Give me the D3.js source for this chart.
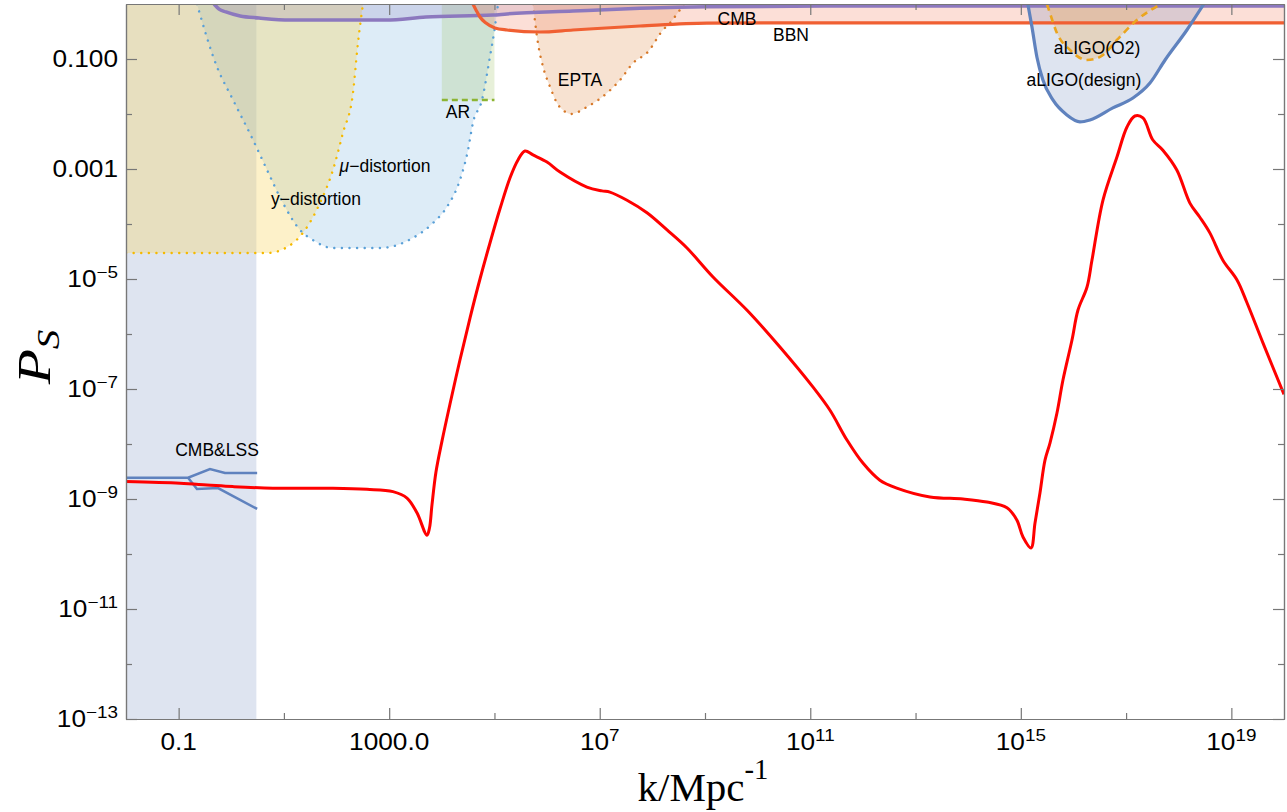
<!DOCTYPE html>
<html>
<head>
<meta charset="utf-8">
<script src="https://cdnjs.cloudflare.com/ajax/libs/d3/7.8.5/d3.min.js"></script>
<style>
  html, body { margin: 0; padding: 0; background: #fff; }
  svg { display: block; }
  text { font-family: "Liberation Sans", Arial, sans-serif; fill: #000; }
</style>
</head>
<body>
<svg id="chart" width="1287" height="812"></svg>
<script>
// ---------------- DATA ----------------
const xDomain = [1e-2, 1e20];
const yDomain = [1e-13, 1];

const xMajorTicks = [1e-1, 1e3, 1e7, 1e11, 1e15, 1e19];
const xMajorLabels = ["0.1", "1000.0", "10^7", "10^11", "10^15", "10^19"];
const xMinorTicks = [1e1, 1e5, 1e9, 1e13, 1e17];
const yMajorTicks = [1e-1, 1e-3, 1e-5, 1e-7, 1e-9, 1e-11, 1e-13];
const yMajorLabels = ["0.100", "0.001", "10^-5", "10^-7", "10^-9", "10^-11", "10^-13"];
const yMinorTicks = [1e-2, 1e-4, 1e-6, 1e-8, 1e-10, 1e-12];

// red curve: scalar power spectrum [k, P]
const redCurve = [
  [0.01, 2.07e-9], [0.106, 1.93e-9], [0.346, 1.80e-9], [1.08, 1.68e-9], [6.2, 1.57e-9],
  [85, 1.57e-9], [378, 1.50e-9], [1180, 1.36e-9], [2180, 1.04e-9], [3370, 5.6e-10],
  [5220, 2.2e-10], [5830, 2.97e-10], [6500, 7.8e-10], [7740, 3.1e-9], [1.007e4, 1.13e-8],
  [1.43e4, 5.34e-8], [2.21e4, 3.37e-7], [3.43e4, 1.95e-6], [5.31e4, 1.0e-5], [8.22e4, 4.52e-5],
  [1.27e5, 1.87e-4], [1.97e5, 6.86e-4], [2.80e5, 1.46e-3], [3.8e5, 2.12e-3], [5.4e5, 1.8e-3],
  [9.95e5, 1.34e-3], [1.76e6, 8.8e-4], [5.7e6, 4.7e-4], [1.1e7, 4.0e-4], [1.56e7, 3.8e-4],
  [3.3e7, 2.7e-4], [7.9e7, 1.6e-4], [1.9e8, 7.8e-5], [4.5e8, 3.7e-5], [1.42e9, 1.09e-5],
  [6.3e9, 2.7e-6], [2.65e10, 5.8e-7], [1.12e11, 1.09e-7], [2.37e11, 4.1e-8], [4.98e11, 1.18e-8],
  [1.0e12, 4.5e-9], [2.1e12, 2.2e-9], [4.4e12, 1.58e-9], [1.88e13, 1.09e-9], [7.95e13, 1.0e-9],
  [2.27e14, 8.8e-10], [5.45e14, 6.9e-10], [8.4e14, 4.15e-10], [1.1e15, 2.04e-10], [1.56e15, 1.29e-10],
  [1.86e15, 3.66e-10], [2.31e15, 1.29e-9], [2.88e15, 5.1e-9], [3.58e15, 1.04e-8], [4.86e15, 3.66e-8],
  [6.32e15, 1.46e-7], [9.38e15, 7.78e-7], [1.22e16, 2.73e-6], [1.81e16, 7.16e-6], [2.25e16, 2.21e-5],
  [3.64e16, 2.73e-4], [6.7e16, 1.65e-3], [1.04e17, 5.8e-3], [1.47e17, 9.2e-3], [2.09e17, 8.5e-3],
  [3.2e17, 3.4e-3], [5.0e17, 2.2e-3], [9.2e17, 9.6e-4], [1.63e18, 2.4e-4], [2.5e18, 1.34e-4],
  [3.9e18, 6.9e-5], [6.9e18, 2.2e-5], [1.28e19, 9.6e-6], [1.98e19, 3.7e-6], [3.98e19, 6.9e-7],
  [1e20, 8.0e-8]
];

// CMB&LSS constraint band and its two lines
const cmbLssBand = [0.01, 3.0];
const cmbLssUpper = [[0.01, 2.44e-9], [0.151, 2.44e-9], [0.394, 3.5e-9], [0.76, 2.97e-9], [3.1, 2.97e-9]];
const cmbLssLower = [[0.151, 2.44e-9], [0.223, 1.52e-9], [0.56, 1.58e-9], [3.1, 6.6e-10]];

// y-distortion boundary
const yDistortion = [
  [0.01, 2.97e-5], [4.78, 2.97e-5], [11.5, 3.8e-5], [23, 6.9e-5], [48.4, 2.4e-4],
  [85.5, 9.6e-4], [132, 4.5e-3], [205, 0.024], [255, 0.195], [318, 1]
];
// mu-distortion boundary
const muDistortion = [
  [0.223, 1], [0.536, 0.0716], [1.08, 0.018], [2.59, 3.37e-3], [4.78, 9.6e-4],
  [9.6, 2.4e-4], [20.2, 7.8e-5], [35.7, 5.1e-5], [85.5, 3.66e-5], [668, 3.66e-5],
  [2830, 5.6e-5], [6790, 1.04e-4], [1.25e4, 2.04e-4], [2.21e4, 6.3e-4], [3.14e4, 2.2e-3],
  [3.9e4, 6.9e-3], [5.8e4, 0.018], [8.2e4, 0.109], [9.8e4, 0.297], [1.17e5, 1]
];
// AR box [kmin, kmax, Pmin]
const arBox = [1e4, 1e5, 0.018];
// EPTA boundary
const epta = [
  [5.4e5, 1], [6.7e5, 0.195], [8.4e5, 0.0716], [1.14e6, 0.031], [1.54e6, 0.0158],
  [2.0e6, 0.0118], [2.84e6, 0.01], [5.7e6, 0.0134], [1.37e7, 0.024], [2.43e7, 0.0415],
  [4.3e7, 0.0846], [8.2e7, 0.134], [1.59e8, 0.337], [2.16e8, 0.45], [2.93e8, 0.66],
  [3.65e8, 0.88], [4.0e8, 1]
];
// CMB (purple) and BBN (orange) limits
const cmbLimit = [
  [0.47, 1], [0.585, 0.81], [0.79, 0.716], [1.47, 0.605], [3.37, 0.556], [13, 0.51],
  [869, 0.51], [5000, 0.58], [9.4e4, 0.63], [1.73e5, 0.66], [3.1e6, 0.746], [5.8e7, 0.835],
  [1.09e9, 0.893], [8.8e11, 0.92], [1e20, 0.92]
];
const bbnLimit = [
  [3.9e4, 1], [4.46e4, 0.78], [5.3e4, 0.58], [6.9e4, 0.45], [1.02e5, 0.366], [1.73e5, 0.337],
  [7.3e5, 0.31], [3.1e6, 0.337], [5.8e7, 0.398], [1.09e9, 0.45], [8.8e11, 0.455], [1e20, 0.455]
];
// aLIGO design and O2
const aligoDesign = [
  [1.36e15, 1], [1.63e15, 0.38], [2.02e15, 0.109], [2.63e15, 0.0415], [4.07e15, 0.018],
  [7.5e15, 9.6e-3], [1.33e16, 7.2e-3], [2.06e16, 7.8e-3], [5.6e16, 0.0129], [1.35e17, 0.0195],
  [2.84e17, 0.0366], [5.5e17, 0.096], [1.43e18, 0.337], [3.0e18, 1]
];
const aligoO2 = [
  [3.13e15, 1], [3.57e15, 0.686], [4.85e15, 0.297], [8.6e15, 0.146], [1.8e16, 0.096],
  [3.2e16, 0.109], [6.7e16, 0.222], [1.6e17, 0.51], [4.6e17, 1]
];

// text labels [text, k, P] (label centre)
const regionLabels = [
  ["CMB", 4.06e9, 0.533],
  ["BBN", 4.3e10, 0.273],
  ["EPTA", 4.22e6, 0.0415],
  ["AR", 2.03e4, 0.0109],
  ["y\u2212distortion", 40.7, 2.85e-4],
  ["aLIGO(O2)", 2.8e16, 0.158],
  ["aLIGO(design)", 1.58e16, 0.0415],
  ["CMB&LSS", 0.536, 7.8e-9]
];
const muLabel = ["\u03bc", "\u2212distortion", 834, 1.13e-3];

// ---------------- DRAW ----------------
const L = 126, R = 1284, T = 4, B = 719;
const svg = d3.select("#chart");
const x = d3.scaleLog().domain(xDomain).range([L, R]);
const y = d3.scaleLog().domain(yDomain).range([B, T]);

svg.append("defs").append("clipPath").attr("id", "clip")
  .append("rect").attr("x", L).attr("y", T).attr("width", R - L).attr("height", B - T);
const plot = svg.append("g").attr("clip-path", "url(#clip)");

const line = d3.line().x(d => x(d[0])).y(d => y(d[1])).curve(d3.curveMonotoneX);
const smooth = d3.line().x(d => x(d[0])).y(d => y(d[1])).curve(d3.curveCatmullRom.alpha(0.5));
const areaTop = d3.area().x(d => x(d[0])).y0(y(1)).y1(d => y(d[1])).curve(d3.curveMonotoneX);

// CMB&LSS band
plot.append("rect")
  .attr("x", x(cmbLssBand[0])).attr("y", y(1))
  .attr("width", x(cmbLssBand[1]) - x(cmbLssBand[0])).attr("height", y(1e-13) - y(1))
  .attr("fill", "rgba(90,120,180,0.2)");

// mu-distortion
plot.append("path").datum(muDistortion).attr("d", areaTop).attr("fill", "rgba(100,170,220,0.22)");
// y-distortion
plot.append("path").datum(yDistortion).attr("d", areaTop).attr("fill", "rgba(250,212,90,0.33)");
// AR
plot.append("rect")
  .attr("x", x(arBox[0])).attr("y", y(1))
  .attr("width", x(arBox[1]) - x(arBox[0])).attr("height", y(arBox[2]) - y(1))
  .attr("fill", "rgba(170,200,120,0.28)");
// EPTA
plot.append("path").datum(epta).attr("d", areaTop).attr("fill", "rgba(225,140,70,0.25)");
// CMB & BBN fills
plot.append("path").datum(cmbLimit).attr("d", areaTop).attr("fill", "rgba(110,90,170,0.16)");
plot.append("path").datum(bbnLimit).attr("d", areaTop).attr("fill", "rgba(245,140,110,0.28)");
// aLIGO fills
plot.append("path").datum(aligoDesign).attr("d", areaTop).attr("fill", "rgba(90,120,180,0.2)");
plot.append("path").datum(aligoO2).attr("d", areaTop).attr("fill", "rgba(240,170,70,0.28)");

// boundary lines
plot.append("path").datum(muDistortion).attr("d", line).attr("fill", "none")
  .attr("stroke", "rgb(90,160,215)").attr("stroke-width", 2.4)
  .attr("stroke-linecap", "round").attr("stroke-dasharray", "0.1,7.5");
plot.append("path").datum(yDistortion).attr("d", line).attr("fill", "none")
  .attr("stroke", "rgb(245,185,0)").attr("stroke-width", 2.4)
  .attr("stroke-linecap", "round").attr("stroke-dasharray", "0.1,7.5");
plot.append("line")
  .attr("x1", x(arBox[0])).attr("x2", x(arBox[1])).attr("y1", y(arBox[2])).attr("y2", y(arBox[2]))
  .attr("stroke", "rgb(140,180,50)").attr("stroke-width", 2.5).attr("stroke-dasharray", "6,4");
plot.append("path").datum(epta).attr("d", line).attr("fill", "none")
  .attr("stroke", "rgb(215,120,40)").attr("stroke-width", 2.4)
  .attr("stroke-linecap", "round").attr("stroke-dasharray", "0.1,7.5");
plot.append("path").datum(cmbLimit).attr("d", line).attr("fill", "none")
  .attr("stroke", "rgb(140,120,190)").attr("stroke-width", 3.5);
plot.append("path").datum(bbnLimit).attr("d", line).attr("fill", "none")
  .attr("stroke", "rgb(240,95,50)").attr("stroke-width", 3.2);
plot.append("path").datum(aligoDesign).attr("d", line).attr("fill", "none")
  .attr("stroke", "rgb(95,130,190)").attr("stroke-width", 3.2);
plot.append("path").datum(aligoO2).attr("d", line).attr("fill", "none")
  .attr("stroke", "rgb(235,165,30)").attr("stroke-width", 2.6).attr("stroke-dasharray", "7,5");

// CMB&LSS lines
const lin = d3.line().x(d => x(d[0])).y(d => y(d[1]));
[cmbLssUpper, cmbLssLower].forEach(s => {
  plot.append("path").datum(s).attr("d", lin).attr("fill", "none")
    .attr("stroke", "rgb(95,130,190)").attr("stroke-width", 2.5);
});

// red curve
plot.append("path").datum(redCurve).attr("d", smooth).attr("fill", "none")
  .attr("stroke", "#ff0000").attr("stroke-width", 3).attr("stroke-linejoin", "round");

// labels
const lab = svg.append("g").attr("font-size", 17.5);
regionLabels.forEach(([t, k, p]) => {
  lab.append("text").attr("x", x(k)).attr("y", y(p)).attr("text-anchor", "middle")
    .attr("dominant-baseline", "central").text(t);
});
{
  const t = lab.append("text").attr("x", x(muLabel[2])).attr("y", y(muLabel[3]))
    .attr("text-anchor", "middle").attr("dominant-baseline", "central");
  t.append("tspan").attr("font-style", "italic").text(muLabel[0]);
  t.append("tspan").text(muLabel[1]);
}

// ---------------- AXES ----------------
const axisColor = "#777";
function styleAxis(g) {
  g.selectAll("path, line").attr("stroke", axisColor).attr("stroke-width", 1.2);
  g.selectAll("text").remove();
}
svg.append("g").attr("transform", `translate(0,${B})`)
  .call(d3.axisBottom(x).tickValues(xMajorTicks).tickSizeInner(-11).tickSizeOuter(0)).call(styleAxis);
svg.append("g").attr("transform", `translate(0,${B})`)
  .call(d3.axisBottom(x).tickValues(xMinorTicks).tickSizeInner(-6).tickSizeOuter(0)).call(styleAxis);
svg.append("g").attr("transform", `translate(0,${T})`)
  .call(d3.axisTop(x).tickValues(xMajorTicks).tickSizeInner(-11).tickSizeOuter(0)).call(styleAxis);
svg.append("g").attr("transform", `translate(0,${T})`)
  .call(d3.axisTop(x).tickValues(xMinorTicks).tickSizeInner(-6).tickSizeOuter(0)).call(styleAxis);
svg.append("g").attr("transform", `translate(${L},0)`)
  .call(d3.axisLeft(y).tickValues(yMajorTicks).tickSizeInner(-11).tickSizeOuter(0)).call(styleAxis);
svg.append("g").attr("transform", `translate(${L},0)`)
  .call(d3.axisLeft(y).tickValues(yMinorTicks).tickSizeInner(-6).tickSizeOuter(0)).call(styleAxis);
svg.append("g").attr("transform", `translate(${R},0)`)
  .call(d3.axisRight(y).tickValues(yMajorTicks).tickSizeInner(-11).tickSizeOuter(0)).call(styleAxis);
svg.append("g").attr("transform", `translate(${R},0)`)
  .call(d3.axisRight(y).tickValues(yMinorTicks).tickSizeInner(-6).tickSizeOuter(0)).call(styleAxis);

function writeLabel(sel, s) {
  if (s.includes("^")) {
    const [b, e] = s.split("^");
    sel.append("tspan").text(b);
    sel.append("tspan").attr("font-size", "0.72em").attr("dy", "-0.55em").text(e.replace("-", "\u2212"));
  } else sel.text(s);
}
const tickFont = 23;
const sx = 1.14;
xMajorTicks.forEach((v, i) => {
  const g = svg.append("g").attr("transform", `translate(${x(v)},${B + 31}) scale(${sx},1)`);
  const t = g.append("text").attr("text-anchor", "middle").attr("font-size", tickFont);
  writeLabel(t, xMajorLabels[i]);
});
yMajorTicks.forEach((v, i) => {
  const g = svg.append("g").attr("transform", `translate(${L - 8},${y(v) + 8}) scale(${sx},1)`);
  const t = g.append("text").attr("text-anchor", "end").attr("font-size", tickFont);
  writeLabel(t, yMajorLabels[i]);
});

// axis titles
const xt = svg.append("text").attr("x", 703).attr("y", 801).attr("text-anchor", "middle")
  .style("font-family", "'Liberation Serif', 'Times New Roman', serif").attr("font-size", 41);
xt.append("tspan").text("k/Mpc");
xt.append("tspan").attr("font-size", "0.7em").attr("dy", "-0.75em").text("-1");

const yt = svg.append("g").attr("transform", "translate(50,357) rotate(-90) scale(1.25,1)")
  .append("text").attr("text-anchor", "middle")
  .style("font-family", "'Liberation Serif', 'Times New Roman', serif").attr("font-size", 46);
yt.append("tspan").attr("font-style", "italic").text("P");
yt.append("tspan").attr("font-size", "0.68em").attr("font-style", "italic").attr("dy", "0.3em").text("S");
</script>
</body>
</html>
